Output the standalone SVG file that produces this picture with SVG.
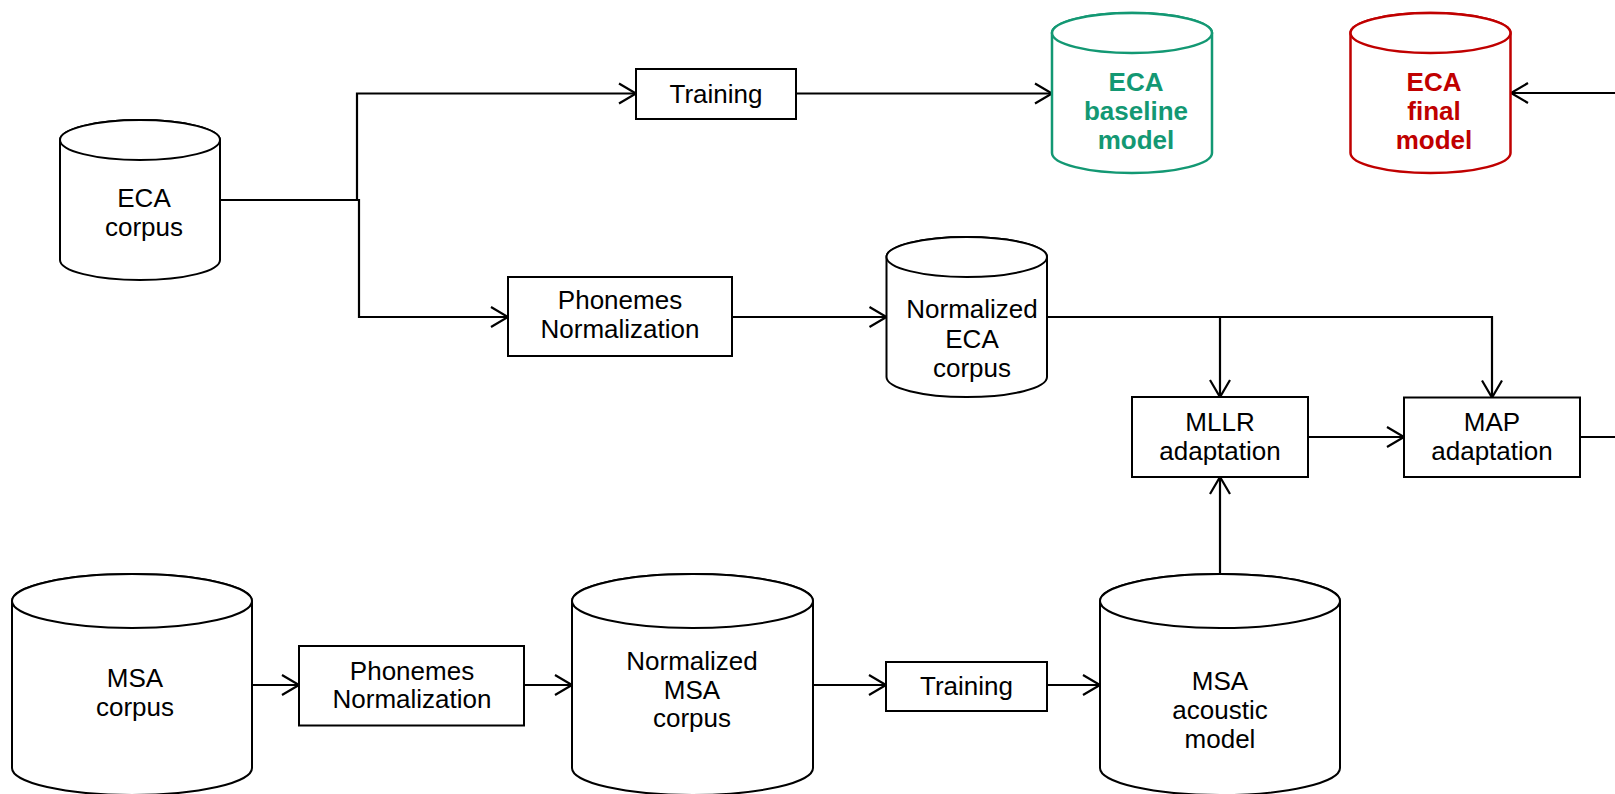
<svg xmlns="http://www.w3.org/2000/svg" width="1615" height="794" viewBox="0 0 1615 794">
  <style>
    .box { fill: #ffffff; stroke: #000000; stroke-width: 2; }
    .cyl { fill: #ffffff; stroke: #000000; stroke-width: 2; }
    .cyl-green { fill: #ffffff; stroke: #139873; stroke-width: 2.5; }
    .cyl-red { fill: #ffffff; stroke: #c00000; stroke-width: 2.5; }
    .lbl { font-family: "Liberation Sans", Arial, sans-serif; font-size: 26px; fill: #000000; text-anchor: middle; }
    .lbl-green { font-family: "Liberation Sans", Arial, sans-serif; font-size: 26px; font-weight: bold; fill: #139873; text-anchor: middle; }
    .lbl-red { font-family: "Liberation Sans", Arial, sans-serif; font-size: 26px; font-weight: bold; fill: #c00000; text-anchor: middle; }
    .conn { fill: none; stroke: #000000; stroke-width: 2.2; }
    .arrow { marker-end: url(#open-arrow); }
  </style>
  <defs>
    <marker id="open-arrow" markerUnits="userSpaceOnUse" markerWidth="24" markerHeight="24" viewBox="-20 -12 22 24" refX="0" refY="0" orient="auto">
      <path d="M-17,-10 L0,0 L-17,10" fill="none" stroke="#000000" stroke-width="2.2"/>
    </marker>
  </defs>

  <rect x="0" y="0" width="1615" height="794" fill="#ffffff"/>

  <!-- connectors -->
  <g id="connectors">
    <path class="conn arrow" d="M220,200 H357 V93.5 H636"/>
    <path class="conn arrow" d="M220,200 H359 V317 H508"/>
    <path class="conn arrow" d="M796,93.5 H1052"/>
    <path class="conn arrow" d="M732,317 H886.5"/>
    <path class="conn arrow" d="M1047,317 H1220 V397"/>
    <path class="conn arrow" d="M1220,317 H1492 V397.5"/>
    <path class="conn arrow" d="M1308,437 H1404"/>
    <path class="conn" d="M1580,437 H1620"/>
    <path class="conn arrow" d="M1620,93 H1511"/>
    <path class="conn arrow" d="M252,685 H299"/>
    <path class="conn arrow" d="M524,685 H572"/>
    <path class="conn arrow" d="M813,685 H886"/>
    <path class="conn arrow" d="M1047,685 H1100"/>
    <path class="conn arrow" d="M1220,574 V477"/>
  </g>

  <!-- ECA corpus -->
  <g id="eca-corpus">
    <path class="cyl" d="M60,140 V260 A80,20 0 0 0 220,260 V140 A80,20 0 0 0 60,140 Z"/>
    <ellipse class="cyl" cx="140" cy="140" rx="80" ry="20"/>
    <text class="lbl" x="144" y="207">ECA</text>
    <text class="lbl" x="144" y="236">corpus</text>
  </g>

  <!-- Training (ECA) -->
  <g id="eca-training">
    <rect class="box" x="636" y="69" width="160" height="50"/>
    <text class="lbl" x="716" y="103">Training</text>
  </g>

  <!-- ECA baseline model -->
  <g id="eca-baseline-model">
    <path class="cyl-green" d="M1052,33 V153 A80,20 0 0 0 1212,153 V33 A80,20 0 0 0 1052,33 Z"/>
    <ellipse class="cyl-green" cx="1132" cy="33" rx="80" ry="20"/>
    <text class="lbl-green" x="1136" y="91">ECA</text>
    <text class="lbl-green" x="1136" y="120">baseline</text>
    <text class="lbl-green" x="1136" y="149">model</text>
  </g>

  <!-- ECA final model -->
  <g id="eca-final-model">
    <path class="cyl-red" d="M1350.5,33 V153 A80,20 0 0 0 1510.5,153 V33 A80,20 0 0 0 1350.5,33 Z"/>
    <ellipse class="cyl-red" cx="1430.5" cy="33" rx="80" ry="20"/>
    <text class="lbl-red" x="1434" y="91">ECA</text>
    <text class="lbl-red" x="1434" y="120">final</text>
    <text class="lbl-red" x="1434" y="149">model</text>
  </g>

  <!-- Phonemes Normalization (ECA) -->
  <g id="eca-phonemes-normalization">
    <rect class="box" x="508" y="277" width="224" height="79"/>
    <text class="lbl" x="620" y="309">Phonemes</text>
    <text class="lbl" x="620" y="338">Normalization</text>
  </g>

  <!-- Normalized ECA corpus -->
  <g id="normalized-eca-corpus">
    <path class="cyl" d="M886.5,257 V377 A80,20 0 0 0 1047,377 V257 A80,20 0 0 0 886.5,257 Z"/>
    <ellipse class="cyl" cx="966.75" cy="257" rx="80.25" ry="20"/>
    <text class="lbl" x="972" y="318">Normalized</text>
    <text class="lbl" x="972" y="348">ECA</text>
    <text class="lbl" x="972" y="377">corpus</text>
  </g>

  <!-- MLLR adaptation -->
  <g id="mllr-adaptation">
    <rect class="box" x="1132" y="397" width="176" height="80"/>
    <text class="lbl" x="1220" y="431">MLLR</text>
    <text class="lbl" x="1220" y="460">adaptation</text>
  </g>

  <!-- MAP adaptation -->
  <g id="map-adaptation">
    <rect class="box" x="1404" y="397.5" width="176" height="79.5"/>
    <text class="lbl" x="1492" y="431">MAP</text>
    <text class="lbl" x="1492" y="460">adaptation</text>
  </g>

  <!-- MSA corpus -->
  <g id="msa-corpus">
    <path class="cyl" d="M12,601 V768 A120,27 0 0 0 252,768 V601 A120,27 0 0 0 12,601 Z"/>
    <ellipse class="cyl" cx="132" cy="601" rx="120" ry="27"/>
    <text class="lbl" x="135" y="687">MSA</text>
    <text class="lbl" x="135" y="716">corpus</text>
  </g>

  <!-- Phonemes Normalization (MSA) -->
  <g id="msa-phonemes-normalization">
    <rect class="box" x="299" y="646" width="225" height="79.5"/>
    <text class="lbl" x="412" y="680">Phonemes</text>
    <text class="lbl" x="412" y="708">Normalization</text>
  </g>

  <!-- Normalized MSA corpus -->
  <g id="normalized-msa-corpus">
    <path class="cyl" d="M572,601 V768 A120.5,27 0 0 0 813,768 V601 A120.5,27 0 0 0 572,601 Z"/>
    <ellipse class="cyl" cx="692.5" cy="601" rx="120.5" ry="27"/>
    <text class="lbl" x="692" y="670">Normalized</text>
    <text class="lbl" x="692" y="699">MSA</text>
    <text class="lbl" x="692" y="727">corpus</text>
  </g>

  <!-- Training (MSA) -->
  <g id="msa-training">
    <rect class="box" x="886" y="662" width="161" height="49"/>
    <text class="lbl" x="966.5" y="695">Training</text>
  </g>

  <!-- MSA acoustic model -->
  <g id="msa-acoustic-model">
    <path class="cyl" d="M1100,601 V768 A120,27 0 0 0 1340,768 V601 A120,27 0 0 0 1100,601 Z"/>
    <ellipse class="cyl" cx="1220" cy="601" rx="120" ry="27"/>
    <text class="lbl" x="1220" y="690">MSA</text>
    <text class="lbl" x="1220" y="719">acoustic</text>
    <text class="lbl" x="1220" y="748">model</text>
  </g>
</svg>
